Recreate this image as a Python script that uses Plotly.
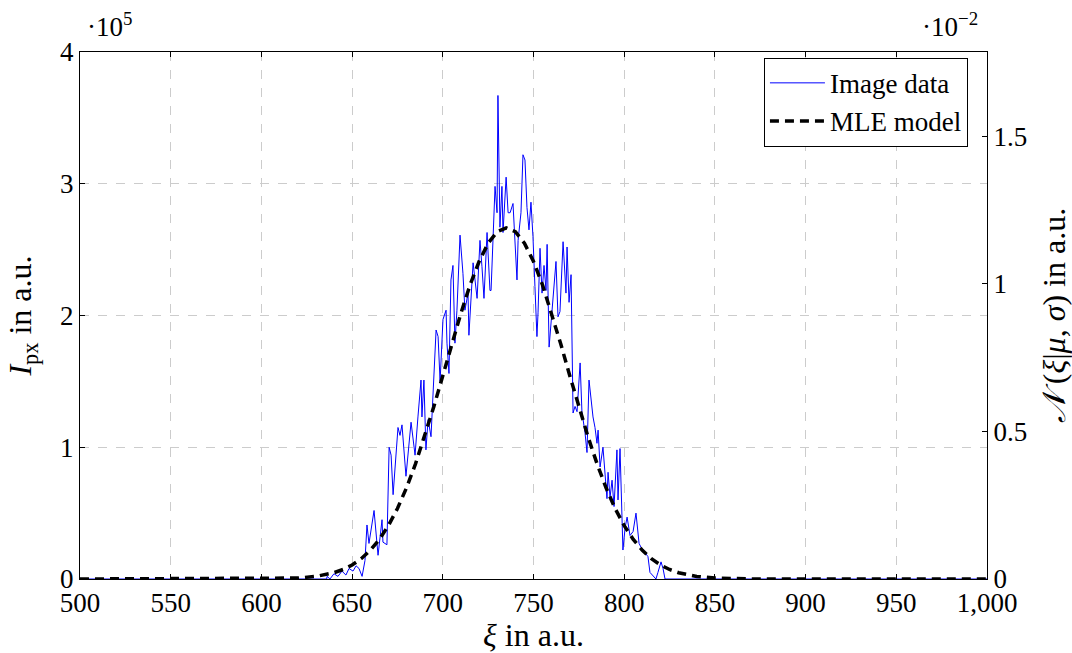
import plotly.graph_objects as go

# Image data (intensity in units of 1e5)
xi_data = [500, 636.0, 636.2, 637.8, 640.0, 642.2, 644.4, 646.6, 648.3, 650.5, 652.2, 653.8, 655.5,
           657.1, 658.2, 659.3, 662.1, 664.3, 666.5, 667.0, 669.2, 670.4, 671.5, 672.6, 675.3,
           676.4, 677.5, 679.7, 682.5, 684.7, 686.3, 688.0, 688.5, 689.6, 690.7, 691.9, 693.5,
           694.6, 696.3, 697.4, 698.5, 700.1, 701.8, 702.3, 703.4, 704.5, 705.6, 706.7, 707.8,
           709.5, 711.1, 712.2, 713.9, 714.4, 716.1, 716.7, 718.9, 720.5, 721.6, 722.7, 724.4,
           726.0, 726.6, 727.7, 728.8, 729.9, 730.4, 731.5, 732.6, 733.2, 734.9, 736.0, 737.1,
           738.7, 739.8, 740.9, 741.5, 743.1, 744.2, 745.3, 746.4, 747.5, 748.6, 749.7, 750.8,
           751.9, 752.5, 753.6, 754.7, 755.8, 756.9, 757.5, 758.6, 760.2, 761.3, 762.4, 763.5,
           764.6, 766.3, 767.9, 768.5, 769.6, 770.7, 771.2, 771.8, 772.9, 774.0, 775.7, 776.7,
           778.4, 779.5, 780.6, 782.3, 782.8, 783.9, 785.0, 785.6, 786.7, 788.3, 789.4, 790.5,
           791.1, 792.2, 793.3, 794.4, 796.0, 796.6, 797.7, 798.8, 799.3, 800.5, 801.6, 803.2,
           804.9, 806.5, 808.2, 809.3, 811.5, 813.1, 814.2, 815.9, 817.5, 818.6, 820.3, 821.4,
           822.5, 1000]
i_data = [0, 0.0, 0.02, 0.0, 0.04, 0.02, 0.06, 0.03, 0.08, 0.06, 0.10, 0.08, 0.02,
          0.14, 0.41, 0.27, 0.52, 0.18, 0.45, 0.28, 0.26, 1.00, 0.94, 0.64, 1.15,
          1.09, 1.17, 0.78, 1.19, 0.94, 1.23, 1.51, 1.23, 1.51, 0.98, 1.21, 1.08,
          1.36, 1.89, 1.84, 1.50, 1.97, 2.04, 1.79, 1.56, 2.27, 2.38, 1.79, 2.04,
          2.61, 2.32, 2.04, 2.17, 1.85, 2.28, 2.40, 2.13, 2.57, 2.37, 2.13, 2.63,
          2.19, 2.19, 2.63, 2.98, 2.78, 3.67, 2.67, 2.98, 2.63, 3.05, 2.78, 2.78,
          2.85, 2.57, 2.27, 2.57, 2.78, 3.22, 3.18, 2.82, 2.65, 2.86, 2.60, 2.22,
          1.84, 2.02, 2.51, 2.17, 2.38, 2.19, 2.54, 1.76, 2.02, 2.17, 2.41, 1.99,
          2.03, 2.56, 2.17, 2.52, 2.10, 2.31, 1.66, 1.26, 1.31, 1.27, 1.64, 1.27,
          1.11, 0.96, 1.51, 1.28, 1.23, 1.15, 1.03, 1.13, 0.85, 1.00, 0.79, 0.61,
          0.81, 0.62, 0.75, 0.55, 0.98, 0.60, 0.99, 0.55, 0.22, 0.39, 0.47, 0.33,
          0.36, 0.50, 0.27, 0.24, 0.20, 0.17, 0.05, 0.02, 0.0, 0.05, 0.13, 0.08,
          0.0, 0]

# MLE model density (units of 1e-2)
xi_model = [500, 600, 620, 630, 640, 645, 650, 655, 660, 665, 670, 675, 680, 685, 690, 695,
            700, 705, 710, 715, 720, 725, 730, 735, 740, 745, 750, 755, 760, 765, 770, 775,
            780, 785, 790, 795, 800, 805, 810, 815, 820, 825, 830, 840, 850, 870, 1000]
n_model = [0, 0.0004, 0.0033, 0.0087, 0.0213, 0.0322, 0.0476, 0.0688, 0.0971, 0.134, 0.181,
           0.239, 0.309, 0.391, 0.483, 0.583, 0.689, 0.797, 0.901, 0.996, 1.076, 1.138, 1.177,
           1.19, 1.177, 1.138, 1.076, 0.996, 0.901, 0.797, 0.689, 0.583, 0.483, 0.391, 0.309,
           0.239, 0.181, 0.134, 0.0971, 0.0688, 0.0476, 0.0322, 0.0213, 0.0087, 0.0033, 0.0004, 0]

x_ticks = [500, 550, 600, 650, 700, 750, 800, 850, 900, 950, 1000]
x_tick_text = ["500", "550", "600", "650", "700", "750", "800", "850", "900", "950", "1,000"]
y1_ticks = [0, 1, 2, 3, 4]
y2_ticks = [0, 0.5, 1, 1.5]
y2_tick_text = ["0", "0.5", "1", "1.5"]

FONT = "Liberation Serif"
FS = 27

fig = go.Figure()
fig.add_trace(go.Scatter(x=xi_data, y=i_data, mode="lines", name="Image data",
                         line=dict(color="#0000ff", width=1), yaxis="y"))
fig.add_trace(go.Scatter(x=xi_model, y=n_model, mode="lines", name="MLE model",
                         line=dict(color="black", width=3.5, dash="9px,6px"), yaxis="y2"))

fig.update_layout(
    width=1072, height=653,
    margin=dict(l=80, r=85, t=52, b=74),
    plot_bgcolor="white", paper_bgcolor="white",
    font=dict(family=FONT, size=FS, color="black"),
    showlegend=True,
    legend=dict(x=0.979, y=0.989, xanchor="right", yanchor="top",
                bordercolor="black", borderwidth=1, bgcolor="white",
                font=dict(family=FONT, size=FS), tracegroupgap=0,
                itemwidth=55),
    xaxis=dict(range=[500, 1000], tickvals=x_ticks, ticktext=x_tick_text,
               showgrid=True, gridcolor="#cccccc", griddash="dash", gridwidth=1,
               showline=True, linecolor="black", linewidth=1, mirror="ticks",
               ticks="inside", ticklen=5, tickcolor="black", zeroline=False,
               automargin=False,
               title=dict(text="<i>ξ</i> in a.u.", standoff=12)),
    yaxis=dict(range=[0, 4], tickvals=y1_ticks,
               showgrid=True, gridcolor="#cccccc", griddash="dash", gridwidth=1,
               showline=True, linecolor="black", linewidth=1, mirror=True,
               ticks="inside", ticklen=5, tickcolor="black", zeroline=False,
               automargin=False,
               title=dict(text="<i>I</i><sub>px</sub> in a.u.", standoff=18)),
    yaxis2=dict(range=[0, 1.786], tickvals=y2_ticks, ticktext=y2_tick_text,
                overlaying="y", side="right", showgrid=False, zeroline=False,
                showline=True, linecolor="black", linewidth=1,
                ticks="inside", ticklen=5, tickcolor="black", automargin=False,
                title=dict(text="<i>𝒩</i> (<i>ξ</i>|<i>μ</i>, <i>σ</i>) in a.u.", standoff=16)),
    annotations=[
        dict(text="·10<sup>5</sup>", xref="paper", yref="paper", x=0.005, y=1.051,
             xanchor="left", yanchor="middle", showarrow=False, font=dict(size=FS)),
        dict(text="·10<sup>−2</sup>", xref="paper", yref="paper", x=0.992, y=1.051,
             xanchor="right", yanchor="middle", showarrow=False, font=dict(size=FS)),
    ],
)

fig.write_html("out.html")
